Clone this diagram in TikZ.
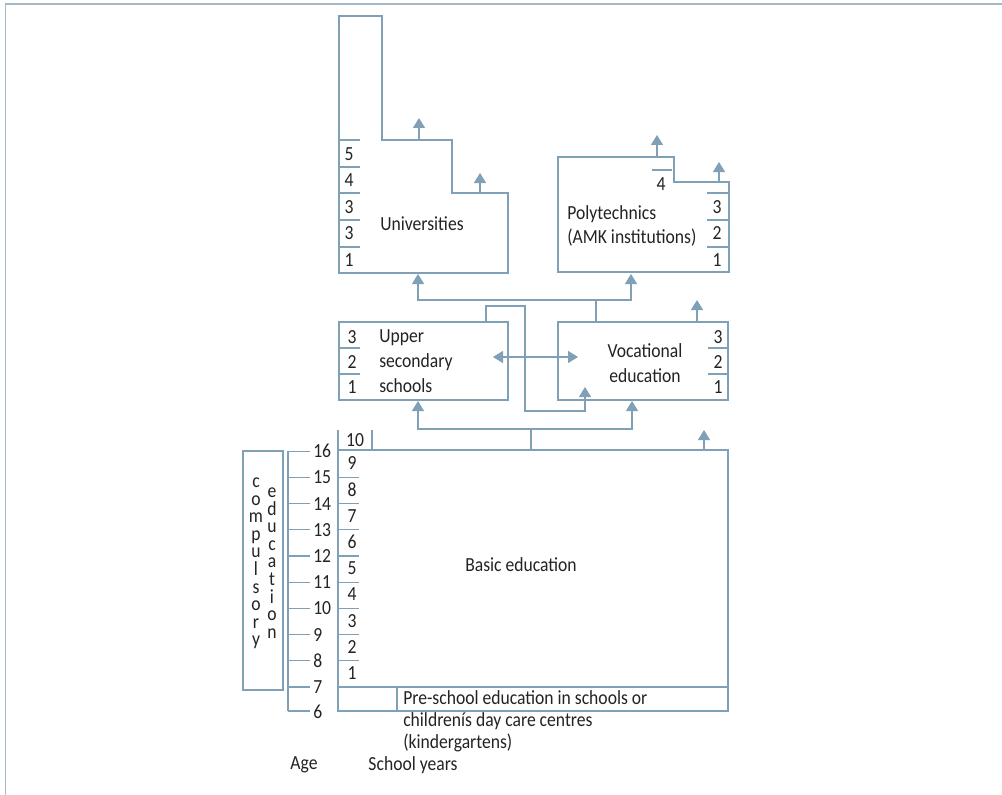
\documentclass[tikz,border=0pt]{standalone}
\usepackage{fontspec}
\setmainfont{Carlito}[FakeStretch=0.88]
\usepackage{tikz}
\usetikzlibrary{arrows.meta, positioning, calc}
\definecolor{edgeblue}{RGB}{128,160,184}
\definecolor{frameblue}{RGB}{160,184,202}
\definecolor{ink}{RGB}{35,35,35}
\newcommand{\vletfont}{\fontsize{15pt}{13.2pt}\selectfont\lineskiplimit=-20pt\relax}
\tikzset{
  box/.style    = {draw=edgeblue, line width=1pt},
  tick/.style   = {draw=edgeblue, line width=1pt},
  flow/.style   = {draw=edgeblue, line width=1pt,
                   -{Triangle[length=7.5pt, width=9pt]}},
  twoway/.style = {flow, {Triangle[length=7.5pt, width=9pt]}-{Triangle[length=7.5pt, width=9pt]}},
  num/.style    = {font=\fontsize{15pt}{17pt}\selectfont, text=ink, inner sep=0pt},
  lbl/.style    = {font=\fontsize{15pt}{18.6pt}\selectfont, text=ink, inner sep=0pt},
  vword/.style  = {font=\vletfont, text=ink, inner sep=0pt, align=center, anchor=north},
  frm/.style    = {draw=frameblue, line width=1.4pt},
}

\begin{document}
\begin{tikzpicture}[x=0.75pt, y=-0.75pt]
    \useasboundingbox (0,0) rectangle (1002,795);
    \draw[frm] (5.5,795) -- (5.5,4) -- (1002,4);

    % universities and polytechnics
    \draw[box] (339,273) -- (339,16) -- (382,16) -- (382,140) -- (452,140)
               -- (452,193) -- (508,193) -- (508,273) -- cycle;
    \draw[box] (558,272) -- (558,157) -- (674,157) -- (674,182) -- (729,182)
               -- (729,272) -- cycle;
    \node[lbl] (uni) at (422,224) {Universities};
    \node[lbl, align=left, anchor=west] (poly) at (567,226) {Polytechnics\\(AMK institutions)};

    \foreach \y in {140,167,193,220,247} \draw[tick] (339,\y) -- (360,\y);
    \foreach \n/\y [count=\i] in {5/154,4/180,3/207,3/233,1/260}
      \node[num] (uy\i) at (349,\y) {\n};
    \draw[tick] (652,170) -- (672,170);
    \node[num] (py4) at (661,184) {4};
    \foreach \y in {193,220,247} \draw[tick] (707,\y) -- (729,\y);
    \foreach \n/\y in {3/207,2/233,1/260}
      \node[num] (py\n) at (717,\y) {\n};

    % secondary level
    \draw[box] (339,322) rectangle (508,400);
    \draw[box] (558,322) rectangle (728,400);
    \node[lbl, align=left, anchor=west] (upper) at (379,361) {Upper\\secondary\\schools};
    \node[lbl, align=center] (voc) at (645,363) {Vocational\\education};
    \foreach \y in {348,374} {
      \draw[tick] (339,\y) -- (360,\y);
      \draw[tick] (708,\y) -- (728,\y);
    }
    \foreach \n/\y in {3/337,2/362,1/387} {
      \node[num] (us\n) at (352,\y) {\n};
      \node[num] (vs\n) at (718,\y) {\n};
    }

    % basic and pre-school
    \draw[box] (338,450) rectangle (728,687);
    \draw[box] (338,687) rectangle (728,711);
    \draw[box] (397,687) -- (397,711);
    \draw[box] (338,450) -- (338,430);
    \draw[box] (372,430) -- (372,450);
    \node[num] (by10) at (355,440) {10};
    \foreach \n in {1,...,9}
      \node[num] (by\n) at (352,{673-(\n-1)*26.2}) {\n};
    \foreach \k in {1,...,8}
      \draw[tick] (338,{687-\k*26.2}) -- (359,{687-\k*26.2});
    \node[lbl] (basic) at (521,565) {Basic education};
    \node[lbl, align=left, anchor=north west, font=\fontsize{15pt}{16.8pt}\selectfont]
      (pre) at (403,690)
      {Pre-school education in schools or\\childrenís day care centres\\(kindergartens)};

    % ages
    \draw[tick] (288,451) -- (288,711);
    \foreach \a in {7,...,16} {
      \draw[tick] (288,{687-(\a-7)*26.2}) -- (310,{687-(\a-7)*26.2});
      \node[num, anchor=west] (age\a) at (313,{687-(\a-7)*26.2}) {\a};
    }
    \draw[tick] (288,711) -- (310,711);
    \node[num, anchor=west] (age6) at (313,712) {6};

    \draw[box] (243,451) rectangle (283,690);
    \node[vword] (cmp) at (256,477.5) {c\\o\\m\\p\\u\\l\\s\\o\\r\\y};
    \node[vword] (edu) at (272,487.5) {e\\d\\u\\c\\a\\t\\i\\o\\n};

    \node[lbl] (agehd) at (304,765) {Age};
    \node[lbl] (yearhd) at (413,765) {School years};

    % connectors
    \coordinate (uniS)  at (418,274);
    \coordinate (polyS) at (631,274);
    \coordinate (vocT)  at (596,322);
    \coordinate (hub)   at (596,300);
    \draw[flow] (vocT) -- (hub) -| (uniS);
    \draw[flow] (hub) -| (polyS);

    \coordinate (upT)  at (486,322);
    \coordinate (vocB) at (585,387);
    \draw[flow] (upT) -- (486,306) -| (525,411) -| (vocB);
    \coordinate (upR)  at (493,357);
    \coordinate (vocL) at (578,357);
    \draw[twoway] (upR) -- (vocL);

    \coordinate (basT)  at (531,450);
    \coordinate (split) at (531,429);
    \coordinate (upS)   at (418,401);
    \coordinate (vocS)  at (632,401);
    \draw[flow] (basT) -- (split) -| (upS);
    \draw[flow] (split) -| (vocS);

    \coordinate (vocOut) at (697,322);
    \draw[flow] (vocOut) -- ++(0,-22);
    \coordinate (basOut) at (704,450);
    \draw[flow] (basOut) -- ++(0,-20);
    \coordinate (uniOutA) at (419,140);
    \draw[flow] (uniOutA) -- ++(0,-22);
    \coordinate (uniOutB) at (480,193);
    \draw[flow] (uniOutB) -- ++(0,-20);
    \coordinate (polyOutA) at (657,157);
    \draw[flow] (polyOutA) -- ++(0,-22);
    \coordinate (polyOutB) at (719,182);
    \draw[flow] (polyOutB) -- ++(0,-20);
\end{tikzpicture}
\end{document}
